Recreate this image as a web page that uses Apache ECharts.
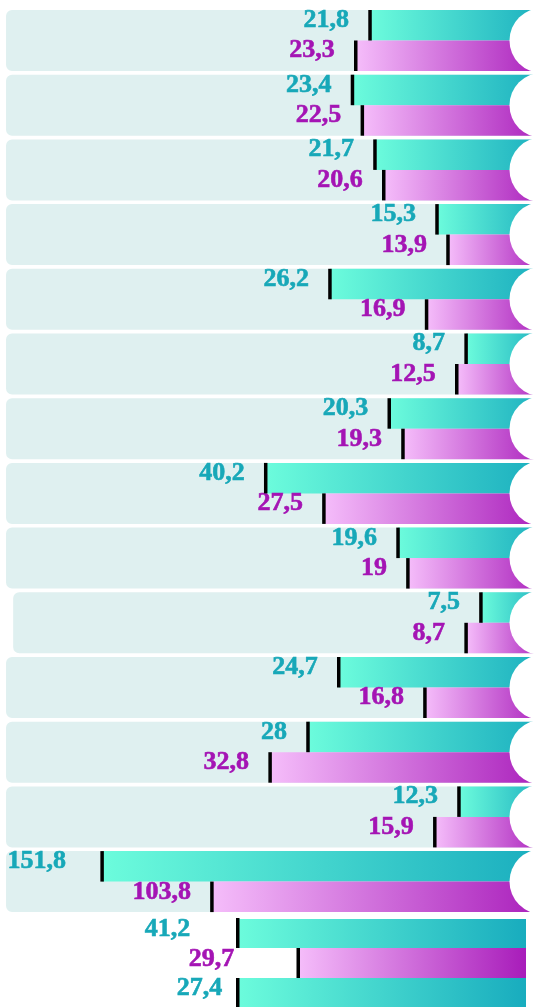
<!DOCTYPE html>
<html>
<head>
<meta charset="utf-8">
<script src="https://cdn.jsdelivr.net/npm/echarts@6/dist/echarts.min.js"></script>
<style>
html,body{margin:0;padding:0;background:#ffffff;}
#chart{width:549px;height:1007px;}
</style>
</head>
<body>
<div id="chart"></div>
<script>
// ---------- data ----------
const categories = ['R1','R2','R3','R4','R5','R6','R7','R8','R9','R10','R11','R12','R13','R14'];
// printed values
const cyanValues    = [21.8, 23.4, 21.7, 15.3, 26.2, 8.7, 20.3, 40.2, 19.6, 7.5, 24.7, 28, 12.3, 151.8];
const magentaValues = [23.3, 22.5, 20.6, 13.9, 16.9, 12.5, 19.3, 27.5, 19, 8.7, 16.8, 32.8, 15.9, 103.8];
// drawn bar extents, as % of the track
const cyanExtent    = [32.6, 35.8, 31.7, 20.4, 39.9, 15.1, 29.1, 51.6, 27.5, 12.4, 38.3, 43.9, 16.4, 81.4];
const magentaExtent = [35.2, 34.0, 30.1, 18.4, 22.3, 16.8, 26.6, 41.0, 25.7, 15.1, 22.6, 50.8, 20.8, 61.4];
const trackExtent   = [98.9, 98.9, 98.9, 98.9, 98.9, 98.9, 98.9, 98.9, 98.9, 97.6, 98.9, 98.9, 98.9, 98.9];
// bottom summary row
const summaryCategory = ['Σ'];
const summaryValues   = [41.2, 29.7, 27.4];
const summaryExtent   = [54.8, 43.3, 54.8];

// ---------- styles ----------
const FONT = "'Liberation Serif','Times New Roman',serif";
const CYAN_TEXT = '#17a8b8';
const MAG_TEXT = '#a414b4';
const cyanGrad = () => new echarts.graphic.LinearGradient(0,0,1,0,[{offset:0,color:'#6cfcdc'},{offset:1,color:'#18acbe'}]);
const magGrad  = () => new echarts.graphic.LinearGradient(0,0,1,0,[{offset:0,color:'#f5bdfa'},{offset:1,color:'#a81cba'}]);
const fmt = v => String(v).replace('.', ',');
const cyanGapOverride = {13: 36};
const summaryGaps = [47.5, 64, 15.5];
const summaryColors = [cyanGrad, magGrad, cyanGrad];
const summaryText = [CYAN_TEXT, MAG_TEXT, CYAN_TEXT];
const BAR_H = 30.5;

const labelBase = (color) => ({
  show: true, position: 'left', distance: 21, offset: [0, -5],
  color: color, fontFamily: FONT, fontWeight: 'bold', fontSize: 26,
  textBorderColor: color, textBorderWidth: 0.6
});

const series = [
  // track backgrounds
  { type: 'bar', xAxisIndex: 0, yAxisIndex: 0, barWidth: 61, z: 1, silent: true,
    data: trackExtent, itemStyle: { color: '#dff0f0', borderRadius: 6 } },
  // cyan bars
  { type: 'bar', xAxisIndex: 0, yAxisIndex: 1, barWidth: BAR_H, barGap: 0, z: 2,
    data: cyanExtent.map((v, i) => cyanGapOverride[i] ? { value: v, label: { distance: cyanGapOverride[i] } } : v),
    itemStyle: { color: cyanGrad() },
    label: Object.assign(labelBase(CYAN_TEXT), { formatter: p => fmt(cyanValues[p.dataIndex]) }) },
  // magenta bars
  { type: 'bar', xAxisIndex: 0, yAxisIndex: 1, barWidth: BAR_H, barGap: 0, z: 2,
    data: magentaExtent,
    itemStyle: { color: magGrad() },
    label: Object.assign(labelBase(MAG_TEXT), { formatter: p => fmt(magentaValues[p.dataIndex]) }) },
  // end markers
  { type: 'scatter', xAxisIndex: 0, yAxisIndex: 1, z: 3, silent: true,
    symbol: 'rect', symbolSize: [3.5, BAR_H], symbolOffset: [0, -BAR_H/2],
    itemStyle: { color: '#000', opacity: 1 }, data: cyanExtent.map((v, i) => [v, i]) },
  { type: 'scatter', xAxisIndex: 0, yAxisIndex: 1, z: 3, silent: true,
    symbol: 'rect', symbolSize: [3.5, BAR_H], symbolOffset: [0, BAR_H/2],
    itemStyle: { color: '#000', opacity: 1 }, data: magentaExtent.map((v, i) => [v, i]) },
  // white end caps
  { type: 'scatter', xAxisIndex: 0, yAxisIndex: 0, z: 4, silent: true,
    symbol: 'circle', symbolSize: 65, symbolOffset: [-7, 0],
    itemStyle: { color: '#ffffff', opacity: 1 }, data: categories.map((c, i) => [0, i]) }
];

// summary row: three bars
summaryValues.forEach((val, k) => {
  series.push({
    type: 'bar', xAxisIndex: 1, yAxisIndex: 2, barWidth: 30, barGap: 0, z: 2,
    data: [summaryExtent[k]],
    itemStyle: { color: summaryColors[k]() },
    label: Object.assign(labelBase(summaryText[k]), { distance: summaryGaps[k], offset: [0, -4], formatter: () => fmt(val) })
  });
  series.push({
    type: 'scatter', xAxisIndex: 1, yAxisIndex: 2, z: 3, silent: true,
    symbol: 'rect', symbolSize: [3.5, 30], symbolOffset: [0, (k - 1) * 30],
    itemStyle: { color: '#000', opacity: 1 }, data: [[summaryExtent[k], 0]]
  });
});

const hiddenValue = (g) => ({ gridIndex: g, type: 'value', inverse: true, min: 0, max: 100, show: false });
const option = {
  animation: false,
  backgroundColor: '#ffffff',
  grid: [
    { left: 0, right: 0, top: 8.15, height: 905.8, containLabel: false },
    { left: 0, right: 23, top: 919, height: 90, containLabel: false }
  ],
  xAxis: [hiddenValue(0), hiddenValue(1)],
  yAxis: [
    { gridIndex: 0, type: 'category', data: categories, inverse: true, show: false },
    { gridIndex: 0, type: 'category', data: categories, inverse: true, show: false },
    { gridIndex: 1, type: 'category', data: summaryCategory, show: false }
  ],
  series: series
};

const chart = echarts.init(document.getElementById('chart'), null, { renderer: 'canvas' });
chart.setOption(option);
</script>
</body>
</html>
